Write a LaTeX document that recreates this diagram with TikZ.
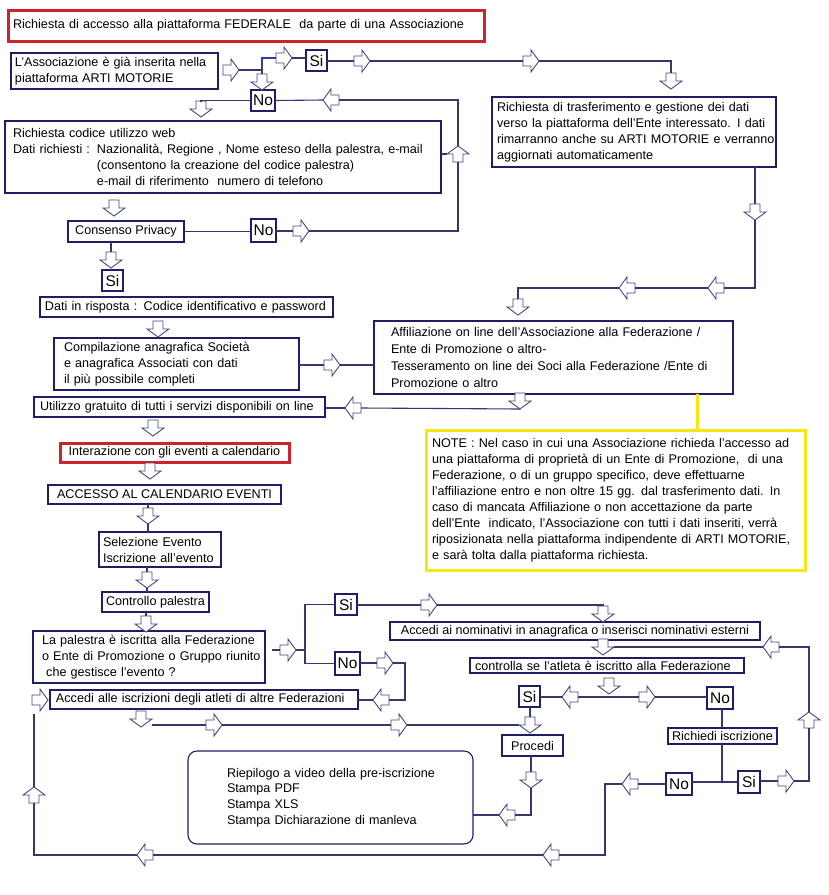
\documentclass[tikz,border=0pt]{standalone}
\usepackage{fontspec}
\setmainfont{Liberation Sans}
\usetikzlibrary{calc}
\definecolor{boxc}{RGB}{30,30,100}
\definecolor{linec}{RGB}{55,55,110}
\definecolor{arrc}{RGB}{70,70,125}
\definecolor{redc}{RGB}{205,35,45}
\definecolor{yelc}{RGB}{245,230,20}
\definecolor{bluec}{RGB}{50,60,170}
\newcommand{\fnt}{\fontsize{12.6}{16}\selectfont}
\newcommand{\fsn}{\fontsize{15.5}{17}\selectfont}
\tikzset{
 bx/.style={draw=boxc, line width=1.1pt, fill=white, font=\fnt, inner ysep=0pt, outer sep=0pt, align=left},
 ctr/.style={draw=boxc, line width=1.1pt, fill=white, font=\fnt, inner sep=0pt, outer sep=0pt, align=center},
 sn/.style={draw=boxc, line width=1.1pt, fill=white, font=\fsn, inner sep=0pt, outer sep=0pt},
 ln/.style={draw=linec, line width=1.1pt},
 arrw/.style={draw=arrc, fill=white, line width=0.9pt, line join=miter},
 barr/.pic={\draw[arrw] (-8,-5) -- (0,-5) -- (0,-11) -- (8,0) -- (0,11) -- (0,5) -- (-8,5) -- cycle;
   \coordinate (-c) at (0,0); \coordinate (-tip) at (8,0); \coordinate (-tail) at (-8,0);},
}
\begin{document}
\begin{tikzpicture}[x=1pt,y=-1pt]
\fill[white] (0,0) rectangle (829,895);
\useasboundingbox (0,0) rectangle (829,895);
% ---------- boxes ----------
\node[bx, draw=redc, line width=3pt, text width=466pt, inner xsep=5pt, minimum height=31pt] (title) at (246,25.5) {\mbox{Richiesta di accesso alla piattaforma FEDERALE\ \ da parte di una Associazione}};
\node[bx, text width=199pt, inner xsep=4pt, minimum height=36pt] (assoc) at (114.5,71) {\mbox{L'Associazione è già inserita nella}\\\mbox{piattaforma ARTI MOTORIE}};
\node[bx, text width=274pt, inner xsep=5pt, minimum height=70pt] (trans) at (634,132) {\mbox{Richiesta di trasferimento e gestione dei dati}\\\mbox{verso la piattaforma dell'Ente interessato. I dati}\\\mbox{rimarranno anche su ARTI MOTORIE e verranno}\\\mbox{aggiornati automaticamente}};
\node[bx, text width=420pt, inner xsep=8pt, minimum height=72pt] (codice) at (223,157) {\mbox{Richiesta codice utilizzo web}\\\mbox{\makebox[84pt][l]{Dati richiesti :}Nazionalità, Regione , Nome esteso della palestra, e-mail}\\\mbox{\hspace*{84pt}(consentono la creazione del codice palestra)}\\\mbox{\hspace*{84pt}e-mail di riferimento\ \ numero di telefono}};
\node[ctr, minimum width=116pt, minimum height=21pt] (privacy) at (126,231.5) {Consenso Privacy};
\node[bx, text width=283pt, inner xsep=5pt, minimum height=20pt] (dati) at (186.5,307) {\mbox{Dati in risposta : Codice identificativo e password}};
\node[bx, text width=225pt, inner xsep=10pt, minimum height=52pt] (comp) at (176.5,364) {\mbox{Compilazione anagrafica Società}\\\mbox{e anagrafica Associati con dati}\\\mbox{il più possibile completi}};
\node[bx, font=\fontsize{12.6}{17}\selectfont, text width=325pt, inner xsep=17pt, minimum height=73pt] (aff) at (553.5,357.5) {\mbox{Affiliazione on line dell'Associazione alla Federazione /}\\\mbox{Ente di Promozione o altro-}\\\mbox{Tesseramento on line dei Soci alla Federazione /Ente di}\\\mbox{Promozione o altro}};
\node[bx, text width=279pt, inner xsep=6pt, minimum height=20pt] (util) at (179.5,407) {\mbox{Utilizzo gratuito di tutti i servizi disponibili on line}};
\node[ctr, draw=redc, line width=3pt, minimum width=229pt, minimum height=19pt] (inter) at (174.5,452.5) {Interazione con gli eventi a calendario};
\node[ctr, minimum width=233pt, minimum height=19pt] (acc) at (164.5,494.5) {ACCESSO AL CALENDARIO EVENTI};
\node[bx, text width=114pt, inner xsep=4pt, minimum height=35pt] (sel) at (160,549.5) {\mbox{Selezione Evento}\\\mbox{Iscrizione all'evento}};
\node[ctr, minimum width=107pt, minimum height=20pt] (ctrl) at (155.5,602) {Controllo palestra};
\node[bx, text width=214pt, inner xsep=9pt, minimum height=52pt] (pal) at (149,657) {\mbox{La palestra è iscritta alla Federazione}\\\mbox{o Ente di Promozione o Gruppo riunito}\\\mbox{\ che gestisce l'evento ?}};
\node[ctr, minimum width=370pt, minimum height=18pt] (noms) at (575,631) {Accedi ai nominativi in anagrafica o inserisci nominativi esterni};
\node[bx, text width=264pt, inner xsep=5pt, minimum height=15pt] (ctl2) at (607,665.5) {\mbox{controlla se l'atleta è iscritto alla Federazione}};
\node[bx, text width=296pt, inner xsep=6pt, minimum height=19pt] (acc2) at (204,699.5) {\mbox{Accedi alle iscrizioni degli atleti di altre Federazioni}};
\node[ctr, minimum width=61pt, minimum height=21pt] (procedi) at (532.5,745.5) {Procedi};
\node[ctr, minimum width=109pt, minimum height=16pt] (rich) at (722.5,736) {Richiedi iscrizione};
\node[bx, rounded corners=9pt, font=\fontsize{12.6}{15.7}\selectfont, text width=207pt, inner xsep=39pt, minimum height=93pt] (riep) at (330.5,797.5) {\mbox{Riepilogo a video della pre-iscrizione}\\\mbox{Stampa PDF}\\\mbox{Stampa XLS}\\\mbox{Stampa Dichiarazione di manleva}};
\node[bx, draw=yelc, line width=3pt, text width=367pt, inner xsep=6pt, minimum height=140pt] (note) at (615.5,500) {\mbox{NOTE : Nel caso in cui una Associazione richieda l'accesso ad}\\\mbox{una piattaforma di proprietà di un Ente di Promozione,\ \ di una}\\\mbox{Federazione, o di un gruppo specifico, deve effettuarne}\\\mbox{l'affiliazione entro e non oltre 15 gg. dal trasferimento dati. In}\\\mbox{caso di mancata Affiliazione o non accettazione da parte}\\\mbox{dell'Ente\ \ indicato, l'Associazione con tutti i dati inseriti, verrà}\\\mbox{riposizionata nella piattaforma indipendente di ARTI MOTORIE,}\\\mbox{e sarà tolta dalla piattaforma richiesta.}};
% Si / No labels
\node[sn, minimum width=21pt, minimum height=21pt] (Si1) at (316.5,60.5) {Si};
\node[sn, minimum width=24pt, minimum height=21pt] (No1) at (263,100.5) {No};
\node[sn, minimum width=25pt, minimum height=23pt] (No2) at (263.5,230.5) {No};
\node[sn, minimum width=21pt, minimum height=21pt] (Si2) at (112.5,280.5) {Si};
\node[sn, minimum width=22pt, minimum height=21pt] (Si3) at (346,604.5) {Si};
\node[sn, minimum width=25pt, minimum height=23pt] (No3) at (347.5,663.5) {No};
\node[sn, minimum width=21pt, minimum height=21pt] (Si5) at (529.5,696.5) {Si};
\node[sn, minimum width=26pt, minimum height=22pt] (No5) at (720,698) {No};
\node[sn, minimum width=26pt, minimum height=22pt] (No4) at (679,784) {No};
\node[sn, minimum width=22pt, minimum height=22pt] (Si4) at (749,782) {Si};
% ---------- block arrows ----------
\pic (A1) at (231,70) {barr};
\pic (A2) at (284,58) {barr};
\pic (A3) at (362,61) {barr};
\pic (A4) at (531,61) {barr};
\pic[rotate=-90] (A5) at (671,81) {barr};
\pic[rotate=-90] (A6) at (755,212) {barr};
\pic[rotate=180] (A7) at (716,288) {barr};
\pic[rotate=180] (A8) at (627,288) {barr};
\pic[rotate=-90] (A9) at (518,307) {barr};
\pic[rotate=-90] (A10) at (262,82) {barr};
\pic[rotate=-90] (A11) at (201,109) {barr};
\pic[rotate=180] (A12) at (331,100) {barr};
\pic (A13) at (301,231) {barr};
\pic[rotate=90] (A14) at (458,154) {barr};
\pic[rotate=-90] (A15) at (114,208) {barr};
\pic[rotate=-90] (A16) at (111,260) {barr};
\pic[rotate=-90] (A17) at (158,329) {barr};
\pic (A18) at (332,365) {barr};
\pic[rotate=-90] (A19) at (520,401) {barr};
\pic[rotate=180] (A20) at (353,408) {barr};
\pic[rotate=-90] (A21) at (153,428) {barr};
\pic[rotate=-90] (A22) at (150,471) {barr};
\pic[rotate=-90] (A23) at (148,516) {barr};
\pic[rotate=-90] (A24) at (147,580) {barr};
\pic[rotate=-90] (A25) at (146,624) {barr};
\pic (A26) at (288,650) {barr};
\pic (A27) at (429,605) {barr};
\pic[rotate=-90] (A28) at (603,614) {barr};
\pic[rotate=-90] (A29) at (603,647) {barr};
\pic[rotate=180] (A30) at (771,647) {barr};
\pic[rotate=90] (A31) at (809,720) {barr};
\pic (A32) at (786,781) {barr};
\pic[rotate=-90] (A33) at (609,686) {barr};
\pic[rotate=180] (A34) at (570,697) {barr};
\pic (A35) at (647,697) {barr};
\pic[rotate=-90] (A36) at (530,725) {barr};
\pic (A38) at (399,725) {barr};
\pic[rotate=-90] (A48) at (141,719) {barr};
\pic (A49) at (214,725) {barr};
\pic[rotate=-90] (A39) at (531,780) {barr};
\pic[rotate=180] (A40) at (507,815) {barr};
\pic[rotate=180] (A41) at (630,784) {barr};
\pic[rotate=180] (A42) at (551,855) {barr};
\pic[rotate=180] (A43) at (145,855) {barr};
\pic[rotate=90] (A44) at (34,795) {barr};
\pic (A45) at (40,700) {barr};
\pic[rotate=180] (A46) at (381,700) {barr};
\pic (A47) at (385,663) {barr};
% ---------- helper coordinates ----------
\coordinate (J) at (262,70);
\coordinate (J2) at (262,58);
\coordinate (yx) at (697,0);
\coordinate (vx) at (305,0);
\coordinate (vx2) at (405,0);
\coordinate (jx) at (722,782);
\coordinate (bx1) at (605,855);
\coordinate (e1) at (34,714);
% ---------- connectors ----------
\draw[ln] (A1-tip) -- (J);
\draw[ln] (J) -- (A10-tail);
\draw[draw=bluec, line width=1.8pt] (J) -- (J2) -- (A2-tail);
\draw[ln] (A2-tip) -- (A2-tip -| Si1.west);
\draw[ln] (Si1.east |- A3-c) -- (A3-tail);
\draw[ln] (A3-tip) -- (A4-tail);
\draw[ln] (A4-tip) -- (A4-tip -| A5-c) -- (A5-tail);
\draw[ln] (trans.south -| A6-c) -- (A6-tail);
\draw[ln] (A6-tip) -- (A6-tip |- A7-c) -- (A7-tail);
\draw[ln] (A7-tip) -- (A8-tail);
\draw[ln] (A8-tip) -- (A8-tip -| A9-c) -- (A9-tail);
\draw[ln] (No1.west) -- (No1.west -| A11-c) -- (A11-tail);
\draw[ln] (No1.east) -- (A12-tip);
\draw[ln] (A12-tail) -- (A12-tail -| A14-c) -- (A14-tip);
\draw[ln] (A14-tail) -- (A14-tail |- A13-c) -- (A13-tip);
\draw[ln] (A13-tail) -- (No2.east |- A13-c);
\draw[ln] (codice.east |- A14-c) -- ([xshift=-11pt]A14-c);
\draw[ln] (privacy.east) -- (No2.west |- privacy.east);
\draw[ln] (privacy.south -| A16-c) -- (A16-tail);
\draw[ln] (comp.east |- A18-c) -- (A18-tail);
\draw[ln] (A18-tip) -- (aff.west |- A18-c);
\draw[ln] (A19-tip) -- (A20-tail);
\draw[ln] (A20-tip) -- (util.east |- A20-c);
\draw[draw=yelc, line width=3pt] (aff.south -| yx) -- (note.north -| yx);
\draw[ln] (acc.south -| A23-c) -- (A23-tail);
\draw[ln] (A23-tip) -- (sel.north -| A23-c);
\draw[ln] (sel.south -| A24-c) -- (A24-tail);
\draw[ln] (A24-tip) -- (ctrl.north -| A24-c);
\draw[ln] (ctrl.south -| A25-c) -- (A25-tail);
\draw[ln] ([xshift=7pt]pal.east |- A26-c) -- (A26-tail);
\draw[ln] (A26-tip) -- (A26-tip -| vx);
\draw[ln] (Si3.west) -- (Si3.west -| vx) -- (No3.west -| vx) -- (No3.west);
\draw[ln] (Si3.east |- A27-c) -- (A27-tail);
\draw[ln] (A27-tip) -- (A27-tip -| A28-c) -- (A28-tail);
\draw[ln] (Si4.east |- A32-c) -- (A32-tail);
\draw[ln] (A32-tip) -- (A32-tip -| A31-c) -- (A31-tail);
\draw[ln] (A31-tip) -- (A31-tip |- A30-c) -- (A30-tail);
\draw[ln] (A30-tip) -- ([xshift=11pt]A29-c);
\draw[ln] (A34-tail) -- (A35-tail);
\draw[ln] (Si5.east |- A34-c) -- (A34-tip);
\draw[ln] (A35-tip) -- (No5.west |- A35-c);
\draw[ln] (Si5.south -| A36-c) -- (A36-tail);
\draw[ln] ([xshift=11pt,yshift=-6pt]A48-c) -- (A49-tail);
\draw[ln] (A49-tip) -- (A38-tail);
\draw[ln] (A38-tip) -- ([xshift=-11pt]A36-c);
\draw[ln] (procedi.south -| A39-c) -- (A39-tail);
\draw[ln] (A39-tip) -- (A39-tip |- A40-c) -- (A40-tail);
\draw[ln] (A40-tip) -- (riep.east |- A40-c);
\draw[ln] (No5.south -| jx) -- (rich.north -| jx);
\draw[ln] (rich.south -| jx) -- (jx);
\draw[ln] (No4.east |- jx) -- (Si4.west |- jx);
\draw[ln] (No4.west |- A41-c) -- (A41-tail);
\draw[ln] (A41-tip) -- (A41-tip -| bx1) -- (bx1) -- (A42-tail);
\draw[ln] (A42-tip) -- (A43-tail);
\draw[ln] (A43-tip) -- (A43-tip -| A44-c) -- (A44-tail);
\draw[ln] (A44-tip) -- (e1);
\draw[ln] (acc2.east |- A46-c) -- (A46-tip);
\draw[ln] (A46-tail) -- (A46-tail -| vx2) -- (A47-tip -| vx2) -- (A47-tip);
\draw[ln] (A47-tail) -- (No3.east |- A47-c);
\end{tikzpicture}
\end{document}
